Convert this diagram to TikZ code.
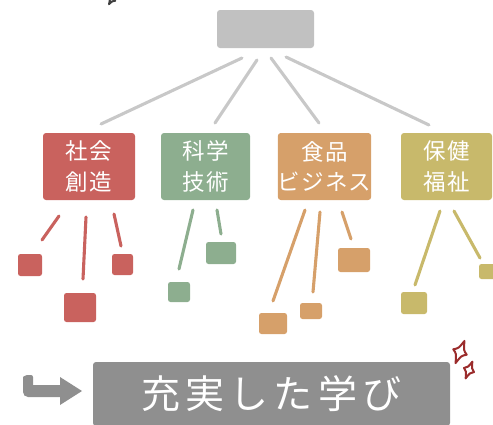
\documentclass[tikz,border=0pt]{standalone}
\usepackage{fontspec}
\setmainfont{Noto Sans CJK JP}
\newfontfamily\catfont[LetterSpace=5]{Noto Sans CJK JP}
\newfontfamily\bigfont[LetterSpace=13]{Noto Sans CJK JP}
\definecolor{cred}{HTML}{C9625E}
\definecolor{cgreen}{HTML}{8DAE8F}
\definecolor{corange}{HTML}{D6A06A}
\definecolor{colive}{HTML}{C8B96B}
\definecolor{ctop}{HTML}{C1C1C1}
\definecolor{cline}{HTML}{C8C8C8}
\definecolor{cbottom}{HTML}{8F8F8F}
\definecolor{cspark}{HTML}{9B2C2C}
\tikzset{
  box/.style={rounded corners=3pt, inner sep=0pt, text=white},
  cat/.style={box, minimum width=#1, minimum height=67pt, align=center,
    font=\catfont\fontsize{22.5}{30.5}\selectfont},
  sq/.style={rounded corners=2.5pt, inner sep=0pt},
  link/.style={draw=#1, line width=3.1pt, line cap=round},
  sparkle/.pic={
    \draw[line width=2pt, line join=round] (0,-1) .. controls (0.22,-0.25) .. (0.6,0)
      .. controls (0.22,0.25) .. (0,1) .. controls (-0.22,0.25) .. (-0.6,0)
      .. controls (-0.22,-0.25) .. cycle;
  }
}
\begin{document}
\begin{tikzpicture}[x=1pt,y=-1pt]
\useasboundingbox (0,0) rectangle (493,424);
% top box
\node[box, fill=ctop, minimum width=97pt, minimum height=38pt] (top) at (265.5,29) {};
% categories
\node[cat=92pt, fill=cred] (soc) at (89,166.5) {社会\\創造};
\node[cat=89pt, fill=cgreen] (sci) at (205.5,166.5) {科学\\技術};
\node[cat=91pt, fill=corange] (food) at (324.5,166.5) {食品\\ビジネス};
\node[cat=91pt, fill=colive] (health) at (446.5,166.5) {保健\\福祉};
% top connectors
\coordinate (t1) at (242,58); \coordinate (c1) at (101,124);
\coordinate (t2) at (257,60); \coordinate (c2) at (215,123);
\coordinate (t3) at (271,58); \coordinate (c3) at (319,123);
\coordinate (t4) at (286,57); \coordinate (c4) at (429,125);
\draw[link=cline] (t1) -- (c1);
\draw[link=cline] (t2) -- (c2);
\draw[link=cline] (t3) -- (c3);
\draw[link=cline] (t4) -- (c4);
% small squares
\node[sq, fill=cred, minimum width=24pt, minimum height=22pt] (ra) at (30,265) {};
\node[sq, fill=cred, minimum width=32pt, minimum height=29pt] (rb) at (80,307.5) {};
\node[sq, fill=cred, minimum width=21pt, minimum height=21pt] (rc) at (122.5,264.5) {};
\node[sq, fill=cgreen, minimum width=22pt, minimum height=20pt] (gd) at (179,292) {};
\node[sq, fill=cgreen, minimum width=30pt, minimum height=22pt] (ge) at (221,253) {};
\node[sq, fill=corange, minimum width=28pt, minimum height=21pt] (of) at (273,323.5) {};
\node[sq, fill=corange, minimum width=22pt, minimum height=16pt] (og) at (311,311) {};
\node[sq, fill=corange, minimum width=32pt, minimum height=24pt] (oh) at (354,260) {};
\node[sq, fill=colive, minimum width=26pt, minimum height=22pt] (yi) at (414,303) {};
\node[sq, fill=colive, minimum width=18pt, minimum height=15pt] (yj) at (488,271.5) {};
% small connectors
\coordinate (a1) at (59,216); \coordinate (a2) at (42,240);
\coordinate (b1) at (86,217); \coordinate (b2) at (83,279);
\coordinate (e1) at (114,214); \coordinate (e2) at (121,246);
\coordinate (d1) at (193,210); \coordinate (d2) at (179,269);
\coordinate (f1) at (217,210); \coordinate (f2) at (221,234);
\coordinate (g1) at (305,210); \coordinate (g2) at (273,301);
\coordinate (h1) at (320,212); \coordinate (h2) at (313,292);
\coordinate (k1) at (342,212); \coordinate (k2) at (351,239);
\coordinate (i1) at (440,211); \coordinate (i2) at (415,285);
\coordinate (j1) at (454,211); \coordinate (j2) at (480,258);
\draw[link=cred] (a1) -- (a2);
\draw[link=cred] (b1) -- (b2);
\draw[link=cred] (e1) -- (e2);
\draw[link=cgreen] (d1) -- (d2);
\draw[link=cgreen] (f1) -- (f2);
\draw[link=corange] (g1) -- (g2);
\draw[link=corange] (h1) -- (h2);
\draw[link=corange] (k1) -- (k2);
\draw[link=colive] (i1) -- (i2);
\draw[link=colive] (j1) -- (j2);
% bottom box
\node[box, fill=cbottom, minimum width=357pt, minimum height=64pt,
  font=\bigfont\fontsize{39}{42}\selectfont] (res) at (271.5,394) {充実した学び};
% hook arrow
\fill[cbottom] (23,377) [rounded corners=2pt] -- (25,375) -- (33,375) [sharp corners] -- (33,385) -- (60,385)
  -- (60,377) -- (82,391) -- (60,405) -- (60,397) [rounded corners=5pt] -- (23,397) [sharp corners] -- cycle;
% sparkles
\pic[draw=cspark, rotate=-22, scale=12] at (460,352) {sparkle};
\pic[draw=cspark, rotate=-22, scale=9] at (469,370) {sparkle};
\pic[draw=black!75, rotate=-30, scale=6] at (112,-1) {sparkle};
\end{tikzpicture}
\end{document}
